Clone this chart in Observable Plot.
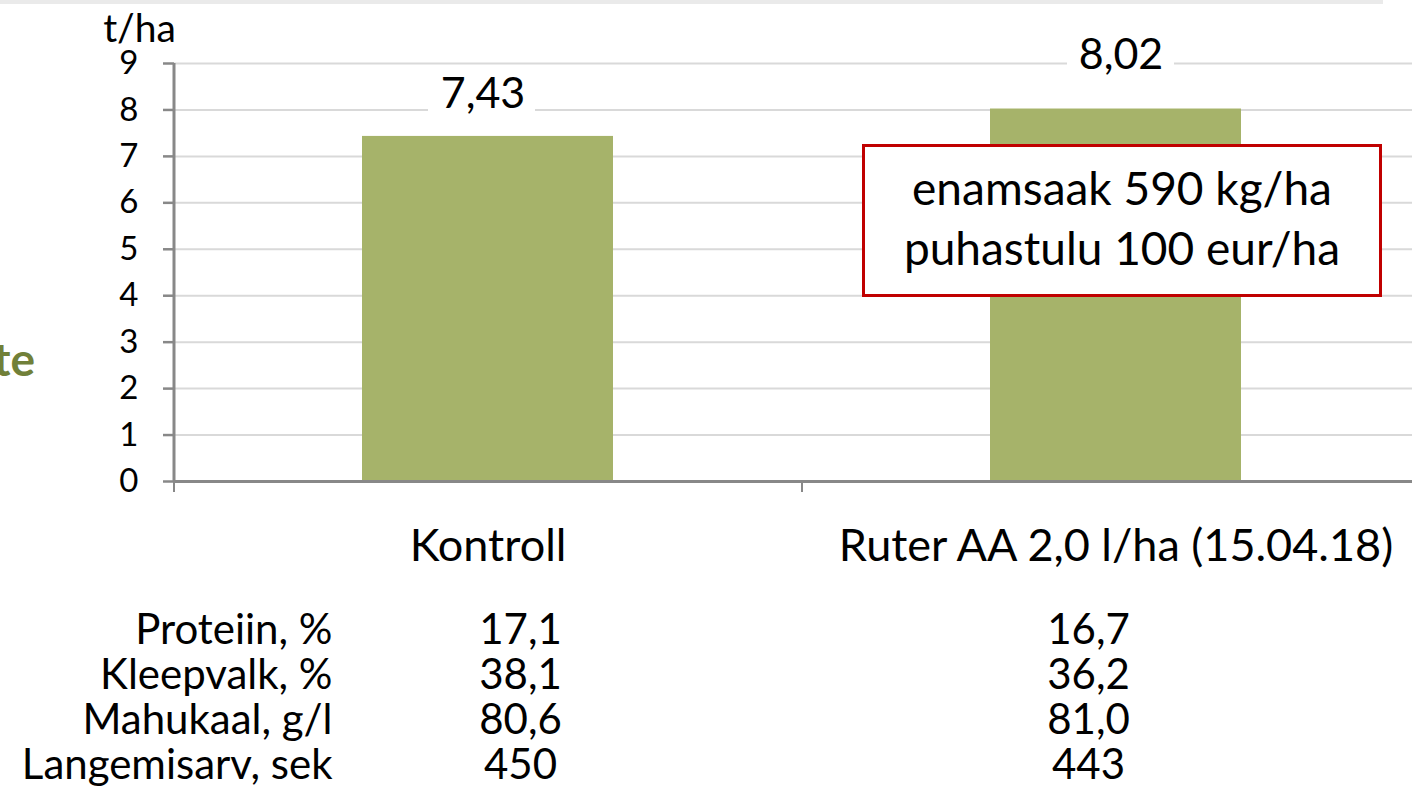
<!DOCTYPE html>
<html>
<head>
<meta charset="utf-8">
<script src="https://cdn.jsdelivr.net/npm/d3@7"></script>
<script src="https://cdn.jsdelivr.net/npm/@observablehq/plot@0.6"></script>
<style>
  body { margin: 0; background: #fff; font-family: Lato, "Open Sans", sans-serif; }
  #wrap { position: relative; width: 1412px; height: 811px; overflow: hidden; background: #fff; }
  #wrap svg { display: block; }
  #topbar { position: absolute; left: 0; top: 0; width: 1383px; height: 4px; background: #EAEAEA; }
  #frag { position: absolute; right: 1377px; top: 336px; font-size: 46px; line-height: 46px; font-weight: bold; color: #718039; white-space: nowrap; }
  #note { position: absolute; left: 862px; top: 144px; width: 520px; height: 153px; box-sizing: border-box;
          border: 3.5px solid #C00000; background: #fff; display: flex; flex-direction: column;
          justify-content: center; align-items: center; font-size: 46px; line-height: 60px; color: #000; z-index: 2;
          padding-bottom: 6px; }
</style>
</head>
<body>
<div id="wrap">
  <div id="topbar"></div>
  <div id="frag">te</div>
  <div id="chart"></div>
  <div id="table"></div>
  <div id="note"></div>
</div>
<script>
// ---- data ----
const categories = ["Kontroll", "Ruter AA 2,0 l/ha (15.04.18)"];
const yields = [7.43, 8.02];
const yieldLabels = ["7,43", "8,02"];
const yTicks = [0, 1, 2, 3, 4, 5, 6, 7, 8, 9];
const unitLabel = "t/ha";
const noteLines = ["enamsaak 590 kg/ha", "puhastulu 100 eur/ha"];
const rowLabels = ["Proteiin, %", "Kleepvalk, %", "Mahukaal, g/l", "Langemisarv, sek"];
const kontrollValues = ["17,1", "38,1", "80,6", "450"];
const ruterValues = ["16,7", "36,2", "81,0", "443"];

// ---- derived tables ----
const bars = categories.map((c, i) => ({cat: c, value: yields[i], label: yieldLabels[i]}));
const tableRows = [];
rowLabels.forEach((r, i) => {
  tableRows.push({row: r, cat: categories[0], value: kontrollValues[i]});
  tableRows.push({row: r, cat: categories[1], value: ruterValues[i]});
});

const X0 = 174, X1 = 1430;
const step = (X1 - X0) / categories.length;
const axisGray = "#888888";
const barColor = "#A6B36A";

const chart = Plot.plot({
  width: 1412,
  height: 580,
  marginLeft: 174,
  marginRight: 0,
  marginTop: 63,
  marginBottom: 99,
  style: {fontFamily: "Lato, 'Open Sans', sans-serif", fontSize: "33px", color: "#000", background: "transparent"},
  x: {type: "band", domain: categories, range: [X0, X1], paddingInner: 0.6, paddingOuter: 0.3, axis: null},
  y: {domain: [0, 9], axis: null},
  marks: [
    Plot.gridY(yTicks.slice(1), {stroke: "#D9D9D9", strokeOpacity: 1, strokeWidth: 2}),
    Plot.barY(bars, {x: "cat", y: "value", fill: barColor}),
    // white label backgrounds
    Plot.barY(bars.slice(0, 1), {x: "cat", y1: "value", y2: "value", fill: "white",
      insetLeft: 72, insetRight: 72, insetTop: -68, insetBottom: 16, dx: -6}),
    Plot.barY(bars.slice(1, 2), {x: "cat", y1: "value", y2: "value", fill: "white",
      insetLeft: 72, insetRight: 72, insetTop: -80, insetBottom: 28, dx: 5}),
    Plot.text(bars.slice(0, 1), {x: "cat", y: "value", text: "label", dy: -42, dx: -5, fontSize: 43, lineAnchor: "middle", fill: "#000"}),
    Plot.text(bars.slice(1, 2), {x: "cat", y: "value", text: "label", dy: -54, dx: 5, fontSize: 43, lineAnchor: "middle", fill: "#000"}),
    // axes lines
    Plot.ruleY([0], {stroke: axisGray, strokeWidth: 3}),
    Plot.ruleX([categories[0]], {x: d => d, dx: -step / 2, y1: 0, y2: 9, stroke: axisGray, strokeWidth: 3}),
    Plot.ruleX(categories, {x: d => d, dx: -step / 2, y1: 0, y2: 0, insetBottom: -11, stroke: axisGray, strokeWidth: 2}),
    Plot.axisY(yTicks, {tickSize: 11, tickPadding: 25, stroke: axisGray, strokeWidth: 2.5, fontSize: 33, fill: "#000", label: null}),
    Plot.axisX({tickSize: 0, tickPadding: 48, fontSize: 45, fill: "#000", label: null}),
    Plot.text([unitLabel], {frameAnchor: "top-left", textAnchor: "middle", dx: -35, dy: -34, fontSize: 39, fill: "#000", lineAnchor: "middle"})
  ]
});
document.getElementById("chart").appendChild(chart);

const table = Plot.plot({
  width: 1412,
  height: 231,
  marginLeft: 345,
  marginRight: 0,
  marginTop: 26,
  marginBottom: 22,
  style: {fontFamily: "Lato, 'Open Sans', sans-serif", fontSize: "42px", color: "#000", background: "transparent"},
  x: {type: "point", domain: categories, range: [520, 1088], padding: 0, axis: null},
  y: {type: "band", domain: rowLabels, padding: 0, axis: null},
  marks: [
    Plot.axisY({tickSize: 0, tickPadding: 13, fontSize: 42, fill: "#000", label: null}),
    Plot.text(tableRows, {x: "cat", y: "row", text: "value", fontSize: 42, fill: "#000"})
  ]
});
document.getElementById("table").appendChild(table);

const note = document.getElementById("note");
noteLines.forEach(t => { const d = document.createElement("div"); d.textContent = t; note.appendChild(d); });
</script>
</body>
</html>
